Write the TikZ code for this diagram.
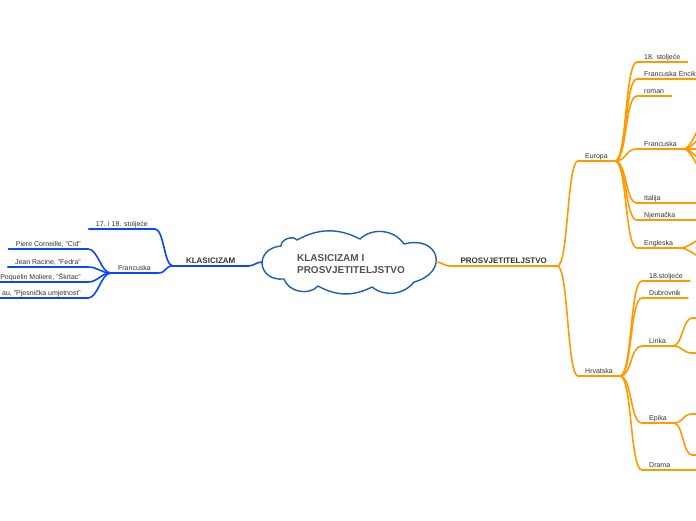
\documentclass[tikz,border=0pt]{standalone}
\usepackage{fontspec}
\setmainfont{Liberation Sans}
\definecolor{cloudblue}{HTML}{1D5FAE}
\definecolor{klblue}{HTML}{0848FF}
\definecolor{prorange}{HTML}{FF9A00}
\definecolor{txtgrey}{HTML}{333333}
\tikzset{
  topic/.style={inner xsep=7pt, inner ysep=1.5pt, text height=5.2pt, text depth=1pt,
    font=\fontsize{7}{8}\selectfont, text=txtgrey},
  main/.style={topic, font=\fontsize{8}{9.6}\selectfont\bfseries},
  kline/.style={draw=klblue, line width=1.6pt, line cap=round},
  pline/.style={draw=prorange, line width=1.6pt, line cap=round},
  branch/.style={to path={.. controls +(#1,0) and +(-#1,0) .. (\tikztotarget)}},
  branch/.default=12,
  lbranch/.style={to path={.. controls +(-#1,0) and +(#1,0) .. (\tikztotarget)}},
  lbranch/.default=10
}
\begin{document}
\begin{tikzpicture}[x=1pt, y=-1pt]
  \useasboundingbox (0,0) rectangle (696,520);
  \clip (0,0) rectangle (696,520);
  \fill[white] (0,0) rectangle (696,520);

  % central topic
  \node[minimum width=174pt, minimum height=58pt, inner sep=0pt] (root) at (349,262) {};
  \draw[cloudblue, line width=1.4pt, fill=white, line join=round]
    (281,246) to[bend left=70] (297,240) to[bend left=28] (360,239)
    to[bend left=50] (404,244) to[bend left=90, looseness=2.4] (414,282)
    to[bend left=45] (372,287) to[bend left=28] (318,286)
    to[bend left=60] (284,279) to[bend left=90, looseness=2.1] cycle;
  \node[align=left, text=txtgrey!85, font=\fontsize{10}{11.5}\selectfont\bfseries]
    (roottxt) at (351,264) {KLASICIZAM I\\PROSVJETITELJSTVO};

  % klasicizam
  \node[main, minimum width=75pt, anchor=south west] (kl) at (173,266) {KLASICIZAM};
  \node[topic, anchor=south east] (kst) at (155,229) {17. i 18. stoljeće};
  \node[topic, anchor=south east] (kfr) at (158,273) {Francuska};
  \node[topic, anchor=south east] (cor) at (88,249) {Piere Corneille, "Cid"};
  \node[topic, anchor=south east] (rac) at (88,267) {Jean Racine, "Fedra"};
  \node[topic, anchor=south east] (mol) at (88,282) {Poquelin Moliere, "Škrtac"};
  \node[topic, anchor=south east] (boi) at (88,298) {au, "Pjesnička umjetnost"};

  \foreach \n in {kl, kst, kfr, cor, rac, mol, boi}
    \draw[kline] (\n.south west) -- (\n.south east);
  \draw[kline] (root.west) to[lbranch=5] (kl.south east);
  \draw[kline] (kl.south west) to[lbranch=9] (kst.south east);
  \draw[kline] (kl.south west) to[lbranch=9] (kfr.south east);
  \foreach \n in {cor, rac, mol, boi}
    \draw[kline] (kfr.south west) to[lbranch] (\n.south east);

  % prosvjetiteljstvo
  \node[main, minimum width=107pt, anchor=south west] (pr) at (450,266) {PROSVJETITELJSTVO};
  \node[topic, anchor=south west] (eu) at (578,161) {Europa};
  \node[topic, anchor=south west] (hr) at (578,376) {Hrvatska};

  \node[topic, anchor=south west] (est) at (637,62) {18. stoljeće};
  \node[topic, anchor=south west] (enc) at (637,79) {Francuska Enciklopedija};
  \node[topic, anchor=south west] (rom) at (637,96) {roman};
  \node[topic, anchor=south west] (efr) at (637,149) {Francuska};
  \node[topic, anchor=south west] (ita) at (637,203) {Italija};
  \node[topic, anchor=south west] (nje) at (637,220) {Njemačka};
  \node[topic, anchor=south west] (eng) at (637,248) {Engleska};

  \node[topic, anchor=south west] (hst) at (642,281) {18.stoljeće};
  \node[topic, anchor=south west] (dub) at (642,298) {Dubrovnik};
  \node[topic, anchor=south west] (lir) at (642,346) {Lirika};
  \node[topic, anchor=south west] (epi) at (642,423) {Epika};
  \node[topic, anchor=south west] (dra) at (642,470) {Drama};

  % branches going on past the right edge
  \coordinate (efr1) at (720,92);
  \coordinate (efr2) at (720,122);
  \coordinate (efr3) at (720,149);
  \coordinate (efr4) at (720,176);
  \coordinate (efr5) at (720,200);
  \coordinate (ita1) at (720,203);
  \coordinate (nje1) at (720,220);
  \coordinate (eng1) at (712,234);
  \coordinate (eng2) at (712,262);
  \coordinate (lir1) at (692,318);
  \coordinate (lir2) at (692,353);
  \coordinate (epi1) at (692,414);
  \coordinate (epi2) at (692,455);
  \coordinate (dra1) at (720,470);

  \foreach \n in {pr, eu, hr, est, enc, rom, efr, ita, nje, eng, hst, dub, lir, epi, dra}
    \draw[pline] (\n.south west) -- (\n.south east);
  \draw[pline] (root.east) to[branch=5] (pr.south west);
  \draw[pline] (pr.south east) to[branch=11] (eu.south west);
  \draw[pline] (pr.south east) to[branch=11] (hr.south west);
  \foreach \n in {est, enc, rom, efr, ita, nje, eng}
    \draw[pline] (eu.south east) to[branch] (\n.south west);
  \foreach \n in {hst, dub, lir, epi, dra}
    \draw[pline] (hr.south east) to[branch] (\n.south west);
  \foreach \n in {efr1, efr2, efr3, efr4, efr5}
    \draw[pline] (efr.south east) to[branch=10] (\n);
  \draw[pline] (ita.south east) -- (ita1);
  \draw[pline] (nje.south east) -- (nje1);
  \draw[pline] (eng.south east) to[branch=10] (eng1);
  \draw[pline] (eng.south east) to[branch=10] (eng2);
  \draw[pline] (lir.south east) to[branch=9] (lir1) -- ++(20,0);
  \draw[pline] (lir.south east) to[branch=9] (lir2) -- ++(20,0);
  \draw[pline] (epi.south east) to[branch=9] (epi1) -- ++(20,0);
  \draw[pline] (epi.south east) to[branch=9] (epi2) -- ++(20,0);
  \draw[pline] (dra.south east) -- (dra1);
\end{tikzpicture}
\end{document}
